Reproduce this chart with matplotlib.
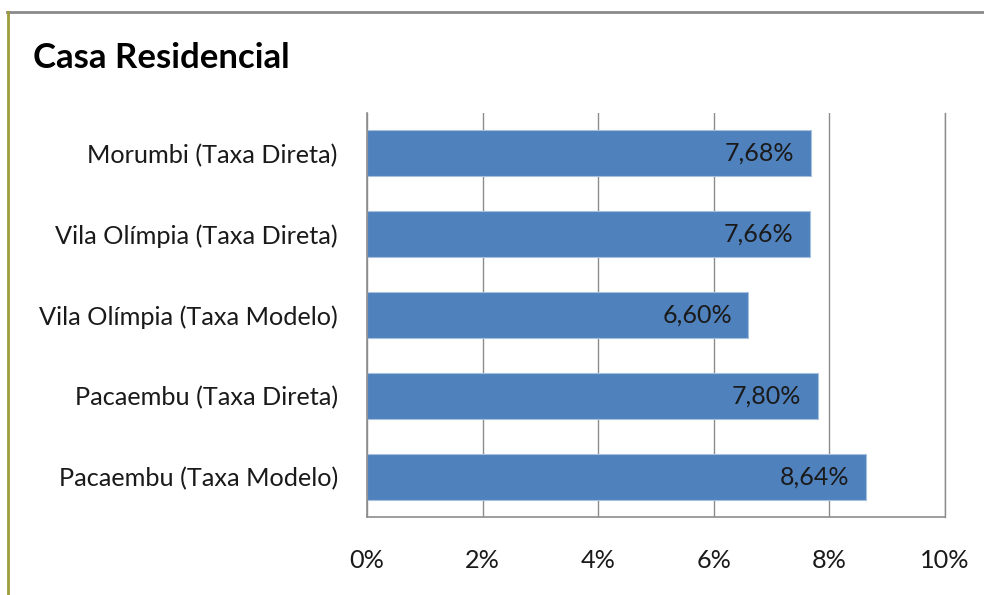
import matplotlib
matplotlib.use("Agg")
import matplotlib.pyplot as plt
from matplotlib.lines import Line2D

categories = ["Morumbi (Taxa Direta)", "Vila Olímpia (Taxa Direta)",
              "Vila Olímpia (Taxa Modelo)", "Pacaembu (Taxa Direta)",
              "Pacaembu (Taxa Modelo)"]
values = [7.68, 7.66, 6.60, 7.80, 8.64]
value_labels = ["7,68%", "7,66%", "6,60%", "7,80%", "8,64%"]
xticks = [0, 2, 4, 6, 8, 10]
xtick_labels = ["0%", "2%", "4%", "6%", "8%", "10%"]
title = "Casa Residencial"

FONT = "Lato"
FS = 18.2
fig = plt.figure(figsize=(9.84, 5.95), dpi=100)
ax = fig.add_axes([367/984, 1-517/595, (945-367)/984, (517-113)/595])

ypos = list(range(len(categories)))[::-1]
bars = ax.barh(ypos, values, height=0.57, color="#4F81BD",
               edgecolor="#A7C0DE", linewidth=0.8, zorder=3)
for b, lab in zip(bars, value_labels):
    ax.annotate(lab, xy=(b.get_width(), b.get_y() + b.get_height()/2),
                xytext=(-12, 0), textcoords="offset points",
                ha="right", va="center", fontsize=18, color="#1a1a1a",
                family=FONT, zorder=4)

ax.set_xlim(0, 10)
ax.set_ylim(-0.5, 4.5)
ax.set_xticks(xticks)
ax.set_xticklabels(xtick_labels, fontsize=FS, family=FONT, color="#1a1a1a")
ax.set_yticks(ypos)
ax.set_yticklabels(categories, fontsize=FS, family=FONT, color="#1a1a1a")
ax.tick_params(axis="x", length=0, pad=23)
ax.tick_params(axis="y", length=0, pad=21)
ax.grid(axis="x", color="#8c8c8c", linewidth=1.0, zorder=0)
ax.spines["top"].set_visible(False)
for s in ["left", "bottom", "right"]:
    ax.spines[s].set_color("#8c8c8c")
    ax.spines[s].set_zorder(5)
ax.spines["right"].set_linewidth(1.0)
ax.spines["left"].set_linewidth(1.2)
ax.spines["bottom"].set_linewidth(1.2)

fig.text(33/984, 1-58/595, title, fontsize=25, fontweight="bold",
         family=FONT, va="center", ha="left", color="#000000")

# frame lines
fig.add_artist(Line2D([7/984, 1], [1-12/595, 1-12/595], transform=fig.transFigure,
                      color="#8a8a8a", linewidth=2))
fig.add_artist(Line2D([8/984, 8/984], [0, 1-12/595], transform=fig.transFigure,
                      color="#9c9c3c", linewidth=2))

fig.savefig("out.png", dpi=100)
